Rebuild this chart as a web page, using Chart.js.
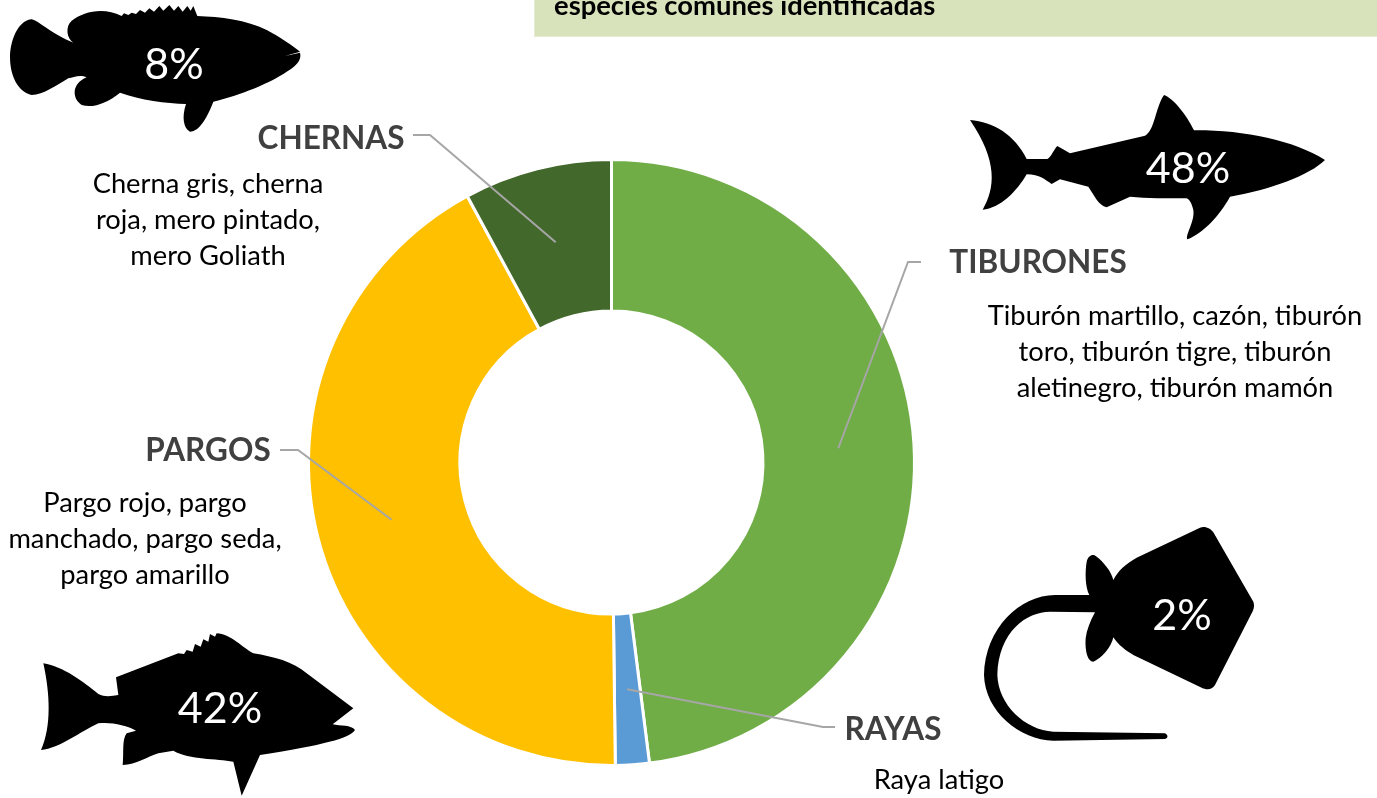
<!DOCTYPE html>
<html>
<head>
<meta charset="utf-8">
<style>
  html, body { margin: 0; padding: 0; background: #fff; }
  canvas { display: block; }
</style>
<script src="https://cdn.jsdelivr.net/npm/chart.js@4/dist/chart.umd.min.js"></script>
</head>
<body>
<canvas id="chart" width="1377" height="798"></canvas>
<script>
// data
const categories = ['TIBURONES', 'RAYAS', 'PARGOS', 'CHERNAS'];
const shares = [48, 1.8, 42.3, 7.9];
const shareLabels = ['48%', '2%', '42%', '8%'];
const colors = ['#70AD47', '#5B9BD5', '#FFC000', '#43682B'];
const species = [
  ['Tiburón martillo, cazón, tiburón', 'toro, tiburón tigre, tiburón', 'aletinegro, tiburón mamón'],
  ['Raya latigo'],
  ['Pargo rojo, pargo', 'manchado, pargo seda,', 'pargo amarillo'],
  ['Cherna gris, cherna', 'roja, mero pintado,', 'mero Goliath']
];
const titleTail = 'especies comunes identificadas';

// where the text sits around the ring
const nameAt = [[1038, 263], [893, 730], [208, 451], [331, 139]];
const speciesAt = [[1175, 316.5], [939, 780.5], [145, 503.5], [208, 184.5]];
const shareAt = [[1188, 169], [1182, 616], [220, 709], [174, 65]];
const elbows = [
  [[908, 262], [921, 262]],
  [[823, 727], [835, 727]],
  [[298, 450], [280, 450]],
  [[430, 135], [413, 135]]
];

const shapes = [
  [960, 85, 'M30,105 C100,110 165,150 200,222 L262,222 C275,215 280,195 292,183 L330,205 L555,152 C585,135 585,70 612,30 C640,40 680,90 702,136 C850,135 1000,165 1095,225 C1050,270 930,315 810,335 C780,390 730,445 682,463 C675,450 705,410 700,375 C695,355 690,345 680,340 C620,340 560,340 510,335 L440,367 C415,360 405,335 385,305 L300,283 L275,297 C255,285 240,268 200,268 C170,320 120,370 68,374 C105,310 115,230 30,105 Z'],
  [970, 515, 'M690,38 C705,32 722,40 730,52 L850,260 C855,275 850,285 845,295 L735,510 C725,525 710,525 695,518 L490,420 C465,405 445,390 430,367 C425,395 395,430 370,440 C350,440 345,400 347,370 C350,345 360,320 375,292 L240,290 C170,290 85,350 82,480 C85,570 165,645 250,650 L585,655 C595,660 595,670 585,672 L250,677 C150,675 45,590 42,480 C45,340 150,240 255,240 L358,240 C345,215 345,170 350,140 C355,120 370,115 380,125 C400,140 425,170 430,195 C445,165 470,145 500,128 Z'],
  [30, 620, 'M40,130 C100,140 160,185 205,222 C225,232 245,228 265,225 L258,172 L445,100 L462,102 L470,90 L488,95 L495,72 L512,80 L520,58 L535,65 L540,42 L555,50 L560,40 C600,40 640,85 670,100 C730,110 790,125 830,160 L970,265 L908,313 C930,318 965,315 975,330 C960,355 880,375 690,405 L635,527 L610,425 C560,415 480,420 430,392 L385,400 C350,410 320,435 278,435 C282,400 275,360 290,340 L318,332 C290,315 240,305 205,310 C150,335 90,385 33,390 C65,320 60,220 40,130 Z'],
  [0, 0, 'M30,170 C32,110 60,60 95,58 C120,65 160,105 220,128 C200,115 195,80 215,62 C250,35 310,20 365,48 L372,40 L385,45 L395,38 L408,42 L420,30 L435,38 L448,25 L462,35 L478,18 L490,32 L508,15 L522,32 L535,18 L548,35 L562,18 L572,32 L580,18 L592,48 C660,50 740,60 800,90 C840,110 880,140 900,155 L855,168 L900,158 C905,175 895,195 860,215 C810,250 720,285 640,305 C625,345 600,395 570,395 C550,385 545,350 558,312 C500,310 420,300 360,278 C320,310 280,325 245,315 C215,295 215,250 260,232 C240,222 220,232 205,235 C170,255 130,285 95,285 C55,275 30,230 30,170 Z']
];

const FONT = 'Lato, "Open Sans", sans-serif';

// title strip at the top, the silhouettes and the text around the ring
const decorations = {
  id: 'decorations',
  beforeDraw(chart) {
    const c = chart.ctx;
    c.save();
    c.fillStyle = '#E6ECD3';
    c.fillRect(534, -2, 843, 39);
    c.fillStyle = '#D8E3BC';
    c.fillRect(535, -2, 842, 38);
    c.fillStyle = '#000';
    c.font = 'bold 27.4px ' + FONT;
    c.textAlign = 'left';
    c.textBaseline = 'alphabetic';
    c.fillText(titleTail, 554, 15);
    shapes.forEach(s => {
      c.save();
      c.translate(s[0], s[1]);
      c.scale(1 / 3, 1 / 3);
      c.fillStyle = '#000';
      c.fill(new Path2D(s[2]));
      c.restore();
    });
    c.restore();
  },
  afterDraw(chart) {
    const c = chart.ctx;
    const arcs = chart.getDatasetMeta(0).data;
    c.save();
    c.textAlign = 'center';
    c.textBaseline = 'middle';
    categories.forEach((name, i) => {
      // leader from the middle of the slice
      const p = arcs[i].getCenterPoint();
      c.strokeStyle = '#A6A6A6';
      c.lineWidth = 2;
      c.beginPath();
      c.moveTo(p.x, p.y);
      elbows[i].forEach(e => c.lineTo(e[0], e[1]));
      c.stroke();

      c.fillStyle = '#404040';
      c.font = 'bold 31.5px ' + FONT;
      c.fillText(name, nameAt[i][0], nameAt[i][1]);

      c.fillStyle = '#000';
      c.font = '27.3px ' + FONT;
      species[i].forEach((line, k) => {
        c.fillText(line, speciesAt[i][0], speciesAt[i][1] + k * 36);
      });

      c.fillStyle = '#fff';
      c.font = '43px ' + FONT;
      c.fillText(shareLabels[i], shareAt[i][0], shareAt[i][1]);
    });
    c.restore();
  }
};

new Chart(document.getElementById('chart').getContext('2d'), {
  type: 'doughnut',
  data: {
    labels: categories,
    datasets: [{
      data: shares,
      backgroundColor: colors,
      borderColor: '#fff',
      borderWidth: 3
    }]
  },
  options: {
    responsive: false,
    animation: false,
    cutout: '50%',
    layout: { padding: { left: 307, right: 461, top: 158, bottom: 31 } },
    plugins: {
      legend: { display: false },
      tooltip: { enabled: false }
    }
  },
  plugins: [decorations]
});
</script>
</body>
</html>
